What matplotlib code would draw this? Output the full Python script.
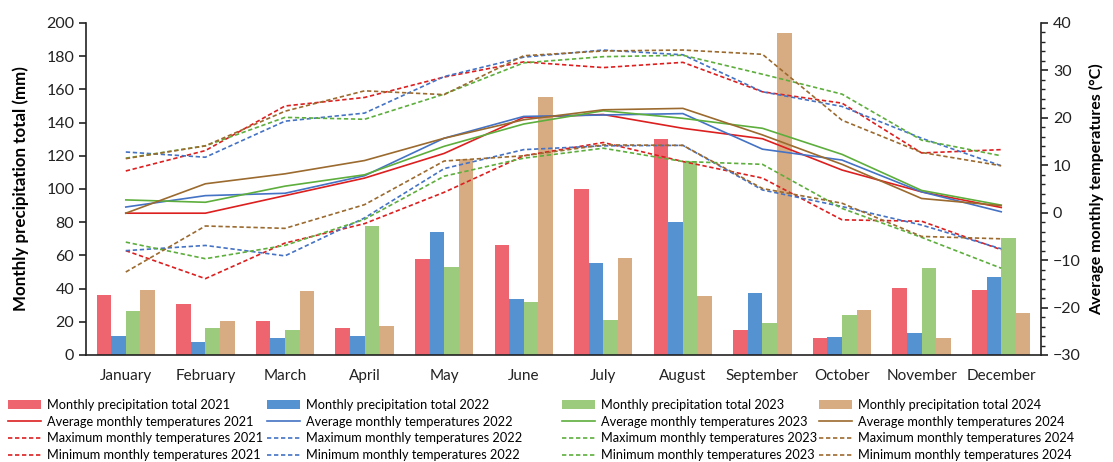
import numpy as np
import matplotlib
matplotlib.use("Agg")
import matplotlib.pyplot as plt
from matplotlib.lines import Line2D
from matplotlib.patches import Patch
from matplotlib.ticker import MultipleLocator

plt.rcParams['font.family'] = ['Lato', 'DejaVu Sans']

months = ["January", "February", "March", "April", "May", "June", "July",
          "August", "September", "October", "November", "December"]
years = [2021, 2022, 2023, 2024]

# Monthly precipitation totals (mm)
precip_2021 = [36.2, 30.8, 20.7, 16.1, 57.7, 66.3, 100.1, 130.0, 14.9, 10.5, 40.6, 39.2]
precip_2022 = [11.5, 8.0, 10.1, 11.7, 73.8, 33.6, 55.5, 80.4, 37.2, 10.9, 13.1, 47.2]
precip_2023 = [26.7, 16.1, 15.1, 77.8, 52.9, 32.0, 21.1, 116.6, 19.5, 24.1, 52.3, 70.2]
precip_2024 = [39.2, 20.7, 38.4, 17.7, 118.0, 155.2, 58.7, 35.4, 193.8, 26.9, 10.5, 25.3]

# Average monthly temperatures (°C)
avg_2021 = [-0.1, -0.1, 3.6, 7.3, 12.5, 20.1, 20.7, 17.8, 15.6, 9.0, 4.4, 1.1]
avg_2022 = [1.2, 3.6, 4.1, 7.8, 15.7, 20.3, 20.6, 20.9, 13.4, 11.1, 4.4, 0.2]
avg_2023 = [2.7, 2.2, 5.6, 8.0, 14.0, 18.7, 21.5, 19.9, 17.8, 12.3, 4.7, 1.6]
avg_2024 = [-0.1, 6.1, 8.2, 11.0, 15.7, 19.6, 21.7, 22.0, 16.4, 10.2, 3.0, 1.5]

# Maximum monthly temperatures (°C)
max_2021 = [8.8, 13.1, 22.5, 24.3, 28.6, 31.8, 30.6, 31.7, 25.5, 23.1, 12.6, 13.3]
max_2022 = [12.8, 11.7, 19.3, 21.0, 28.7, 32.8, 34.3, 33.3, 25.5, 22.4, 15.7, 9.9]
max_2023 = [11.5, 14.1, 20.1, 19.7, 25.0, 31.6, 32.9, 33.2, 29.2, 25.0, 15.3, 12.0]
max_2024 = [11.4, 14.1, 21.4, 25.7, 24.9, 33.1, 34.1, 34.3, 33.4, 19.5, 12.7, 9.9]

# Minimum monthly temperatures (°C)
min_2021 = [-8.0, -13.9, -6.4, -2.3, 4.3, 12.0, 14.8, 10.8, 7.3, -1.5, -1.8, -7.8]
min_2022 = [-8.0, -6.9, -9.1, -1.1, 9.3, 13.3, 14.1, 14.2, 4.8, 1.3, -2.6, -7.6]
min_2023 = [-6.2, -9.7, -6.9, -1.4, 7.7, 11.5, 13.6, 10.8, 10.2, 0.9, -5.2, -11.7]
min_2024 = [-12.5, -2.8, -3.3, 1.7, 10.9, 12.0, 14.3, 14.2, 5.1, 2.0, -5.0, -5.5]

precip = [precip_2021, precip_2022, precip_2023, precip_2024]
avgs = [avg_2021, avg_2022, avg_2023, avg_2024]
maxs = [max_2021, max_2022, max_2023, max_2024]
mins = [min_2021, min_2022, min_2023, min_2024]

bar_colors = ["#EE6570", "#5592D2", "#9DCB7E", "#D8AC83"]
line_colors = ["#DC1F1F", "#4472C4", "#5DAE3C", "#9B6A2E"]

W, H = 1113, 462
fig = plt.figure(figsize=(W / 100, H / 100), dpi=100)
ax = fig.add_axes([86 / W, 1 - 355 / H, (1041 - 86) / W, (355 - 23) / H])
ax2 = ax.twinx()

x = np.arange(len(months))
bw = 0.183
for i, (vals, c) in enumerate(zip(precip, bar_colors)):
    ax.bar(x + (i - 1.5) * bw, vals, width=bw, color=c, linewidth=0, zorder=2)

dash = (0, (2.6, 1.6))
for i in range(4):
    c = line_colors[i]
    ax2.plot(x, avgs[i], color=c, lw=1.2, solid_joinstyle='round')
    ax2.plot(x, maxs[i], color=c, lw=1.2, linestyle=dash)
    ax2.plot(x, mins[i], color=c, lw=1.2, linestyle=dash)

ax.set_xlim(-0.5, 11.5)
ax.set_ylim(0, 200)
ax.yaxis.set_major_locator(MultipleLocator(20))
ax2.set_ylim(-30, 40)
ax2.yaxis.set_major_locator(MultipleLocator(10))
ax2.yaxis.set_minor_locator(MultipleLocator(2))

ax.set_xticks(x)
ax.set_xticklabels(months, fontsize=11, color="#222222")
ax.tick_params(axis='x', length=0, pad=10)
ax.tick_params(axis='y', labelsize=11.5, length=5, width=1.2, direction='out', colors="#222222")
ax2.tick_params(axis='y', which='major', labelsize=11.5, length=5, width=1.2, direction='out', colors="#222222")
ax2.tick_params(axis='y', which='minor', length=3, width=1, direction='out', colors="#222222")

for a in (ax, ax2):
    a.spines['top'].set_visible(False)
    for s in ('left', 'right', 'bottom'):
        a.spines[s].set_linewidth(1.2)
        a.spines[s].set_color("#222222")
ax.spines['right'].set_visible(False)
ax2.spines['left'].set_visible(False)
ax2.spines['bottom'].set_visible(False)

ax.set_ylabel("Monthly precipitation total (mm)", fontsize=12.2, fontweight='bold', labelpad=12)
ax2.set_ylabel("Average monthly temperatures (°C)", fontsize=11.5, fontweight='bold', labelpad=6)

# One legend column per year
col_x = [8, 267, 562, 819]
for i, yr in enumerate(years):
    handles = [Patch(facecolor=bar_colors[i], edgecolor='none'),
               Line2D([], [], color=line_colors[i], lw=1.2),
               Line2D([], [], color=line_colors[i], lw=1.2, linestyle=dash),
               Line2D([], [], color=line_colors[i], lw=1.2, linestyle=dash)]
    labels = [f"Monthly precipitation total {yr}",
              f"Average monthly temperatures {yr}",
              f"Maximum monthly temperatures {yr}",
              f"Minimum monthly temperatures {yr}"]
    fig.legend(handles, labels, loc='upper left',
               bbox_to_anchor=(col_x[i] / W, 1 - 399 / H),
               frameon=False, fontsize=9.2, handlelength=2.6, handleheight=0.6,
               handletextpad=0.45, labelspacing=0.36, borderpad=0,
               borderaxespad=0)

fig.savefig("out.png", dpi=100)
